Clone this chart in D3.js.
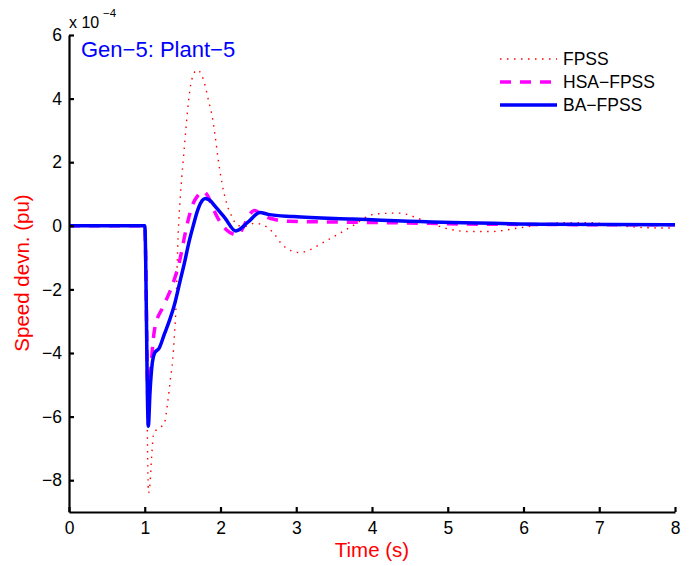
<!DOCTYPE html>
<html>
<head>
<meta charset="utf-8">
<script src="https://cdn.jsdelivr.net/npm/d3@7.9.0/dist/d3.min.js"></script>
<style>
  body { margin: 0; background: #fff; }
  svg { display: block; font-family: "Liberation Sans", Arial, sans-serif; }
</style>
</head>
<body>
<svg width="694" height="566"></svg>
<script>
// speed deviation, in units of 1e-4 pu
const fpssT = [0, 1.0, 1.05, 1.07, 1.09, 1.12, 1.2, 1.26, 1.3, 1.34, 1.37, 1.39, 1.41, 1.44, 1.47, 1.49, 1.52, 1.55, 1.58, 1.62, 1.69, 1.75, 1.8, 1.84, 1.89, 1.93, 1.97, 2.02, 2.08, 2.15, 2.22, 2.32, 2.45, 2.6, 2.7, 2.83, 3.04, 3.42, 3.73, 4.04, 4.35, 4.66, 4.96, 5.27, 5.58, 5.93, 6.24, 6.55, 6.86, 7.17, 7.48, 7.87, 8.0];
const fpssV = [0, 0, -8.4, -8.1, -7.3, -6.5, -6.35, -6.2, -5.6, -4.8, -4.2, -3.5, -2.7, -0.34, 0.92, 1.55, 2.39, 3.23, 3.96, 4.59, 4.9, 4.75, 4.38, 3.96, 3.44, 2.81, 2.08, 1.34, 0.71, 0.29, 0.02, -0.02, 0.08, -0.02, -0.23, -0.63, -0.84, -0.44, -0.02, 0.37, 0.4, 0.19, -0.07, -0.18, -0.18, -0.07, 0.03, 0.1, 0.1, 0.03, -0.04, -0.07, -0.07];

const hsaT = [0, 1.0, 1.045, 1.08, 1.1, 1.13, 1.245, 1.36, 1.47, 1.52, 1.57, 1.63, 1.7, 1.77, 1.83, 1.91, 2.0, 2.08, 2.16, 2.23, 2.3, 2.37, 2.45, 2.52, 2.6, 2.68, 2.9, 3.5, 4.17, 5.5, 8.0];
const hsaV = [0, 0, -5.6, -4.5, -3.9, -3.25, -2.53, -1.9, -1.0, -0.4, 0.15, 0.65, 0.95, 1.08, 0.95, 0.5, 0.1, -0.13, -0.25, -0.28, -0.05, 0.3, 0.48, 0.4, 0.28, 0.22, 0.14, 0.12, 0.1, 0.05, 0.03];

const baT = [0, 1.0, 1.047, 1.07, 1.1, 1.13, 1.19, 1.26, 1.33, 1.39, 1.47, 1.53, 1.58, 1.64, 1.7, 1.76, 1.8, 1.86, 1.93, 2.06, 2.2, 2.37, 2.52, 2.63, 2.96, 3.73, 5.05, 6.38, 8.0];
const baV = [0, 0, -6.3, -5.2, -4.3, -4.0, -3.85, -3.4, -2.95, -2.5, -1.7, -1.1, -0.55, 0.0, 0.5, 0.8, 0.86, 0.8, 0.61, 0.24, -0.16, 0.13, 0.42, 0.36, 0.29, 0.21, 0.1, 0.05, 0.03];

const xTicks = [0, 1, 2, 3, 4, 5, 6, 7, 8];
const yTicks = [-8, -6, -4, -2, 0, 2, 4, 6];
const seriesNames = ['FPSS', 'HSA-FPSS', 'BA-FPSS'];

const margin = { top: 35, right: 19, bottom: 54, left: 69 };
const width = 694, height = 566;

const svg = d3.select('svg');

const x = d3.scaleLinear().domain([0, 8]).range([margin.left, width - margin.right]);
const y = d3.scaleLinear().domain([-9, 6]).range([height - margin.bottom, margin.top]);

const series = [
  { name: seriesNames[0], t: fpssT, v: fpssV, color: '#ff0000', w: 1.4, dash: '1.5,5.5' },
  { name: seriesNames[1], t: hsaT, v: hsaV, color: '#ff00ff', w: 3.5, dash: '11,9' },
  { name: seriesNames[2], t: baT, v: baV, color: '#0000ff', w: 3.5, dash: null }
];

const line = d3.line()
  .x(d => x(d[0]))
  .y(d => y(d[1]))
  .curve(d3.curveMonotoneX);

series.forEach(s => {
  svg.append('path')
    .datum(s.t.map((t, i) => [t, s.v[i]]))
    .attr('d', line)
    .attr('fill', 'none')
    .attr('stroke', s.color)
    .attr('stroke-width', s.w)
    .attr('stroke-dasharray', s.dash)
    .attr('stroke-linejoin', 'round');
});

// axes (ticks point inward like matlab)
const xAxis = svg.append('g')
  .attr('transform', `translate(0,${y(-9)})`)
  .call(d3.axisBottom(x).tickValues(xTicks).tickSize(-5).tickPadding(10).tickSizeOuter(0));
const yAxis = svg.append('g')
  .attr('transform', `translate(${x(0)},0)`)
  .call(d3.axisLeft(y).tickValues(yTicks).tickSize(-5).tickPadding(7).tickSizeOuter(0));

[xAxis, yAxis].forEach(g => {
  g.select('.domain').attr('stroke', '#000').attr('stroke-width', 2.2);
  g.selectAll('.tick line').attr('stroke', '#000').attr('stroke-width', 2.2);
  g.selectAll('.tick text').attr('font-size', 17.5).attr('fill', '#000').attr('font-family', 'Liberation Sans, Arial, sans-serif');
});

// exponent
svg.append('text')
  .attr('x', 69).attr('y', 28)
  .attr('font-size', 16)
  .text('x 10');
svg.append('text')
  .attr('x', 103).attr('y', 17)
  .attr('font-size', 11.5)
  .text('\u22124');

// axis labels
svg.append('text')
  .attr('x', (x(0) + x(8)) / 2).attr('y', 557)
  .attr('text-anchor', 'middle')
  .attr('font-size', 20.5)
  .attr('fill', '#ff0000')
  .text('Time (s)');
svg.append('text')
  .attr('transform', 'translate(29,273) rotate(-90)')
  .attr('text-anchor', 'middle')
  .attr('font-size', 20.5)
  .attr('fill', '#ff0000')
  .text('Speed devn. (pu)');

// title inside plot
svg.append('text')
  .attr('x', 81).attr('y', 57)
  .attr('font-size', 22)
  .attr('fill', '#0000ff')
  .text('Gen\u22125: Plant\u22125');

// legend
const legend = svg.append('g');
series.forEach((s, i) => {
  const ly = 59 + i * 23;
  legend.append('line')
    .attr('x1', 500).attr('x2', 557)
    .attr('y1', ly).attr('y2', ly)
    .attr('stroke', s.color)
    .attr('stroke-width', s.w)
    .attr('stroke-dasharray', s.dash);
  legend.append('text')
    .attr('x', 563).attr('y', ly + 6)
    .attr('font-size', 17.5)
    .text(s.name.replace('-', '\u2212'));
});
</script>
</body>
</html>
